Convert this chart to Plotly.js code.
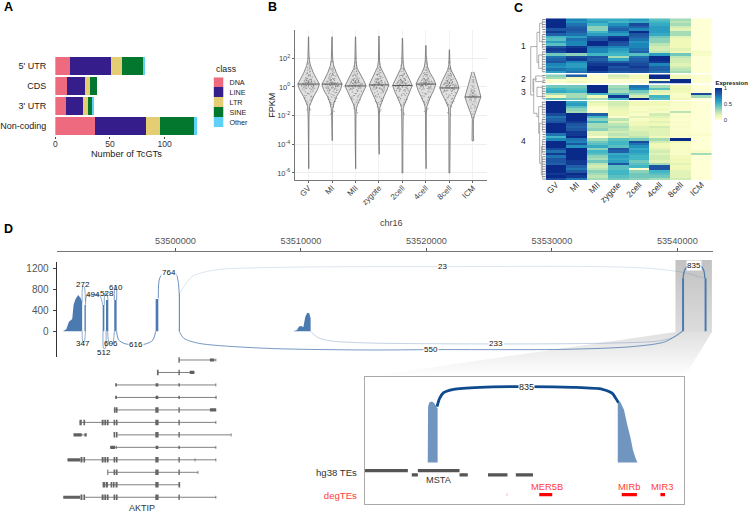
<!DOCTYPE html>
<html><head><meta charset="utf-8">
<script src="https://cdn.plot.ly/plotly-3.0.0.min.js"></script>
<style>html,body{margin:0;padding:0;background:#fff}#g{width:748px;height:513px}</style></head>
<body><div id="g"></div>
<script>
/* ---------- Panel A ---------- */
const regions = ["5' UTR","CDS","3' UTR","Non-coding"];
const classNames = ["DNA","LINE","LTR","SINE","Other"];
const classColors = ["#ee6a7e","#351e8b","#e5cd73","#04772f","#5fd0f7"];
const dnaCounts = [13,11,10,36];
const lineCounts = [38,16,15,47];
const ltrCounts = [10,5,5,13];
const sineCounts = [20,6,4,31];
const otherCounts = [1,0,1,3];

/* ---------- Panel B ---------- */
const stages = ["GV","MI","MII","zygote","2cell","4cell","8cell","ICM"];
const violinGVy = [3.5,2.5,1.9,1.5,1,.5,.2,-.2,-.65,-1.1,-1.35,-2,-4,-5.7];
const violinGVw = [.005,.012,.03,.08,.2,.36,.46,.38,.22,.1,.04,.02,.012,.008];
const violinMIy = [3.5,2.5,1.9,1.5,1,.5,.2,-.2,-.65,-1.1,-1.5,-2,-3,-3.75];
const violinMIw = [.005,.012,.03,.07,.18,.33,.43,.36,.2,.09,.035,.015,.01,.008];
const violinMIIy = [3.5,2.5,1.7,1.3,.9,.45,.07,-.35,-.8,-1.2,-1.5,-2,-4,-5.7];
const violinMIIw = [.005,.012,.03,.07,.2,.35,.45,.33,.2,.09,.035,.02,.012,.008];
const violinZygy = [3.55,2.5,1.8,1.4,1,.5,.14,-.3,-.75,-1.15,-1.45,-2,-3.5,-4.7];
const violinZygw = [.005,.01,.025,.06,.17,.33,.42,.32,.19,.09,.035,.015,.01,.008];
const violin2cy = [3.4,2.5,1.7,1.3,.9,.45,.1,-.35,-.8,-1.2,-1.5,-2,-4,-6];
const violin2cw = [.006,.012,.03,.07,.18,.32,.42,.32,.19,.09,.035,.025,.018,.016];
const violin4cy = [2.9,2.2,1.8,1.4,1,.55,.2,-.25,-.7,-1.1,-1.4,-2,-4,-5.7];
const violin4cw = [.006,.012,.03,.07,.17,.33,.42,.33,.19,.09,.035,.015,.01,.008];
const violin8cy = [2.6,2,1.55,1.2,.8,.35,-.07,-.5,-.95,-1.25,-1.45,-2,-4,-6];
const violin8cw = [.006,.012,.025,.07,.19,.33,.41,.31,.17,.09,.04,.025,.02,.018];
const violinICMy = [1.05,.9,.5,.1,-.3,-.7,-1.1,-1.6,-2,-2.25,-2.7,-3.3,-3.55,-3.75];
const violinICMw = [.04,.06,.13,.2,.28,.34,.26,.14,.06,.025,.02,.02,.04,.035];
const violinYs = [violinGVy,violinMIy,violinMIIy,violinZygy,violin2cy,violin4cy,violin8cy,violinICMy];
const violinWs = [violinGVw,violinMIw,violinMIIw,violinZygw,violin2cw,violin4cw,violin8cw,violinICMw];
const medians = [.2,.2,.07,.14,.1,.2,-.07,-.7];
const jitter = [-.05,.12,-.2,.25,.02,-.12,.18,-.28,.08,-.02,.3,-.16,.06,-.24,.14,.22,-.08,.01,-.18,.1,-.3,.16,-.04,.27,-.1,.05,-.22,.2,-.14,.03,.11,-.26,.24,-.06,.09,-.01];
const ptsGV = [.2,.5,.1,-.1,.8,.3,-.3,.05,1.1,.4,.15,-.6,1.5,.25,-.9,0,.6,.35,.45,-.2,.1,.7,-.45,.3,.9,1.3,-.05,-.7,.55,2,.15,-.15,.4,-1.2,-1.6,0];
const ptsMI = [.3,.6,0,-.2,.9,.2,-.4,.15,1,.5,.05,-.7,1.4,.35,-1,.1,.55,.25,.4,-.15,.2,.75,-.5,.1,.85,1.2,-.1,-.8,.6,1.8,.25,-.05,.3,-1.1,-1.7,.15];
const ptsMII = [.1,.4,-.1,-.3,.7,.25,-.5,0,.9,.3,.2,-.8,1.3,.15,-1.1,-.05,.45,.3,.35,-.25,.05,.6,-.6,.2,.8,1.1,-.15,-.9,.5,1.7,.1,-.2,.25,-1.3,-1.8,.05];
const ptsZyg = [.2,.45,.05,-.2,.75,.3,-.35,.1,1,.35,.2,-.65,1.35,.2,-.95,0,.5,.3,.4,-.1,.1,.65,-.5,.25,.85,1.15,-.05,-.75,.55,1.6,.15,-.15,.35,-1.2,-1.6,.1];
const pts2c = [.1,.5,0,-.25,.8,.2,-.45,.05,.95,.35,.15,-.75,1.3,.25,-1.05,-.1,.55,.3,.3,-.2,.05,.7,-.55,.15,.8,1.2,-.1,-.85,.45,1.75,.1,-.25,.35,-1.25,-1.9,0];
const pts4c = [.25,.55,.1,-.15,.85,.3,-.35,.15,1.05,.45,.2,-.6,1.4,.3,-.9,.05,.6,.35,.45,-.1,.15,.75,-.45,.3,.95,1.25,0,-.7,.55,1.7,.2,-.1,.4,-1.05,-1.5,.1];
const pts8c = [-.05,.3,-.2,-.4,.6,.1,-.6,-.1,.85,.2,.05,-.9,1.1,.15,-1.1,-.15,.4,.25,.3,-.3,0,.55,-.7,.1,.7,.95,-.25,-1,.45,1.3,-.05,-.35,.2,-1.2,-1.4,-.1];
const ptsICM = [-.6,-.3,-.9,-1.1,0,-.5,-1.3,-.7,.3,-.4,-.65,-1.5,.5,-.55,-1.7,-.8,-.2,-.45,-.35,-1,-.75,-.1,-1.2,-.6,.1,.4,-.85,-1.4,-.25,.7,-.7,-.95,-.5,-1.9,-2.1,-.65];
const pointSets = [ptsGV,ptsMI,ptsMII,ptsZyg,pts2c,pts4c,pts8c,ptsICM];

/* ---------- Panel C ---------- */
const cluster1 = [
[1,.7,.55,.55,.6,.45,.3,0],[1,.65,.6,.5,.55,.5,.25,0],[1,.75,.5,.65,.9,.55,.3,0],[1,.8,.35,.75,.8,.6,.2,0],
[.85,.85,.35,.8,.7,.6,.15,0],[.95,.8,.5,.7,1,.6,.3,0],[.8,.75,.6,.6,.85,.55,.3,0],[.5,.6,.8,.95,.8,.4,.15,0],
[.45,.75,.85,1,.75,.35,.1,0],[.6,.7,1,.9,.65,.35,.1,0],[.45,.7,1,.85,.7,.25,.1,0],[.85,.95,.75,.7,.7,.2,.1,0],
[.95,1,.7,.6,.75,.2,.15,0],[.9,1,.7,.55,.8,.25,.1,.06],[.4,.35,.5,.5,.45,.6,.4,.05],[.75,.9,.85,.3,.75,1,.25,0],
[.8,.95,.8,.55,.8,1,.2,0],[.85,.7,.9,.8,.85,.95,.2,0],[.7,.6,.95,.95,.9,.7,.15,0],[.65,.6,1,.85,.95,.8,.2,0],
[.75,.7,1,.9,.9,.8,.25,0],[.6,.75,.9,.8,.85,.75,.3,0]];
const cluster2 = [
[.35,.8,.02,.2,.1,1,.1,.02],[.3,.1,.02,.15,.1,1,.1,.02],[.02,.05,.02,.02,.02,.05,1,.02],[.03,.1,.02,.02,.02,.9,1,.02]];
const cluster3 = [
[.4,.4,1,.3,.75,.3,.1,0],[.5,.45,1,.35,.7,.45,.12,0],[.55,.5,1,.3,.4,.15,.1,0],
[.3,.3,.5,.45,.3,.1,.05,.9],[.1,.3,.1,.95,.2,.5,.05,.3],[.45,.4,.3,.5,1,.45,.1,0]];
const cluster4 = [
[1,.55,.15,.2,.1,.1,.05,0],[1,.6,.1,.2,.1,.1,.05,0],[1,.45,.03,.15,.05,.05,.03,0],[1,.35,.02,.12,.05,.08,.03,0],
[1,.3,.03,.1,.08,.05,.25,0],[.9,1,.8,.1,.05,.2,.03,0],[.75,1,.5,.02,.15,.15,.05,0],[.8,1,.35,.25,.05,.1,.02,0],
[.85,.95,.5,.15,.1,.15,.05,0],[1,.85,.3,.25,.1,.1,.03,0],[1,.8,.3,.3,.15,.2,.05,0],[1,.85,.35,.25,.15,.15,.03,0],
[1,.95,.15,.2,.2,.15,.03,0],[.75,.95,.15,.25,.2,.15,.05,.03],[.5,1,.02,.2,.25,.1,.03,0],[.7,.75,.3,.45,.4,.3,1,0],
[1,.7,.4,.5,.9,.2,.1,0],[1,.85,.45,.5,.75,.1,.05,0],[1,.65,.55,.45,.65,.1,.05,0],[.9,1,.35,.85,.55,.15,.05,0],
[.75,1,.5,.8,.6,.2,.05,.05],[.95,1,.45,.55,.55,.15,.05,.3],[.75,1,.35,.6,.5,.2,.08,0],[.85,1,.3,.55,.5,.2,.1,0],
[.85,.95,.4,.6,.4,.15,.1,0],[.8,.95,.25,.85,.45,.3,.15,0],[1,.8,.2,.45,.5,.85,.1,0],[1,.75,.25,.45,.02,.85,.1,0],
[1,.85,.35,.5,.35,.5,.15,0],[.95,1,.3,.5,.4,.45,.15,0],[1,.95,.25,.45,.4,.4,.15,0],[.9,.75,.3,.4,.35,.3,.2,0]];
/* dendrogram: merge height (from the leaves) and vertical position along the heatmap */
const dendroH = [15,15,null,15,8.7,null,15,12,null,8.7,8.7,null,8.7,6,null,8.7,7,null,6,6,null,6,3.3,null,6,3.3,null,7,7,null,7,3.3,null,7,3.3,null,
 12.7,12.7,null,12.7,8.7,null,12.7,12,null,10,10,null,10,2,null,10,2,null,8.7,8.7,null,8.7,3.3,null,8.7,3.3,null,
 12,12,null,12,8.7,null,8.7,8.7,null,8.7,7,null,7,7,null,7,3.3,null,7,6,null,6,6,null,6,3.3,null,6,4.3,null,4.3,4.3,null,4.3,3.3,null,
 3.3,3.3,null,3.3,3.3,null,3.3,3.3,null,3.3,3.3,null,3.3,3.3,null,3.3,3.3,null,3.3,3.3,null,3.3,3.3];
const dendroP = [28.3,76.7,null,28.3,28.3,null,76.7,76.7,null,14,44,null,14,14,null,44,44,null,5,23.3,null,5,5,null,23.3,23.3,null,36.7,50,null,36.7,36.7,null,50,50,null,
 60.7,73.3,null,60.7,60.7,null,73.3,73.3,null,57.7,63.3,null,57.7,57.7,null,63.3,63.3,null,69,78.3,null,69,69,null,78.3,78.3,null,
 60.7,95,null,95,95,null,95,98.3,null,98.3,98.3,null,88.3,115,null,88.3,88.3,null,115,115,null,105,145,null,105,105,null,145,145,null,128.3,156.7,null,128.3,128.3,null,
 1.7,10,null,16.7,30,null,33.3,53.3,null,67,80,null,83.3,97,null,100,113.3,null,121.7,135,null,138.3,160];

/* ---------- Panel D: coverage (bp from 53500000, read depth) and junctions ---------- */
const chromTicks = [0,10000,20000,30000,40000];
const chromLabels = ["53500000","53510000","53520000","53530000","53540000"];
const covX = [-9500,-8973,-8709,-8498,-8234,-8128,-7970,-7759,-7548,-7442,-7442,-7257,-7257,-7151,-7151,-5806,-5806,-5674,-5674,-5542,-5542,-5357,-5357,-4882,-4882,-4697,-4697,-1583,-1583,-1372,-1372,264,264,343,343,9369,9685,9844,10028,10187,10345,10503,10662,10767,10767,40377,40377,40535,40535,42172,42172,42330,42330];
const covY = [0,0,39,186,238,507,623,700,636,559,0,0,507,507,0,0,507,507,0,0,603,603,0,0,603,603,0,0,623,623,0,0,732,732,0,0,26,90,103,77,282,359,347,250,0,0,1021,1021,0,0,1021,1021,0];
const junctionCounts = [272,347,494,528,512,606,610,616,764,23,550,233,835];
const junctionX = [
 [-7442,-7389,-7284,-7178],[-7442,-7389,-7284,-7178],[-7178,-7073,-6598,-6070,-5806],[-5674,-5621,-5489,-5384],[-5779,-5727,-5595,-5542],
 [-5410,-5278,-5014,-4882],[-4882,-4829,-4724,-4697],[-4697,-4539,-3959,-2375,-1795,-1583],[-1372,-1267,-924,0,211,290],
 [343,1320,3167,7125,15306,20584,33779,37738,40377,42172],[290,660,1847,7125,15306,20584,31140,36418,39057,40377],
 [10767,11348,12403,15306,25598,33779,38529,39849,40456],[40456,40588,40905,41828,42092,42198]];
const junctionY = [
 [559,860,860,559],[0,-199,-199,0],[507,681,700,700,507],[507,732,732,603],[0,-327,-327,0],
 [0,-231,-231,0],[603,860,860,603],[0,-167,-244,-244,-167,0],[636,1021,1117,1117,957,732],
 [732,1053,1181,1226,1245,1245,1245,1213,1136,1021],[0,-135,-231,-327,-360,-353,-347,-295,-199,0],
 [0,-122,-186,-225,-244,-231,-186,-103,0],[1021,1181,1258,1258,1181,1021]];
const junctionAlpha = [.55,.55,.55,.6,.6,.6,.7,.75,.75,.18,.7,.3,.85];
const junctionLabelX = [-7389,-7389,-6545,-5489,-5674,-5146,-4750,-3114,-554,21270,20400,25572,41353];
const junctionLabelY = [892,-231,700,732,-417,-238,847,-250,1124,1245,-353,-244,1265];

/* ---------- Panel D: gene track (track position units) ---------- */
const txIntrons = [[[420,533]],[[355,467]],[[230,533]],[[230,533]],[[224,533]],[[120,533]],[[127,135],[235,578]],[[213,533]],[[84,533]],[[205,478]],[[190,424]],[[137,533]]];
const txExons = [
 [[419,423]],[[354,359],[419,423]],[],[],
 [[224,229],[230,235],[349,359],[419,423]],
 [[120,127],[132,137],[187,193],[195,201],[203,208],[223,228],[230,235],[349,359],[419,423]],
 [[223,228],[230,235],[349,359],[419,423]],[],
 [[123,129],[132,137],[187,193],[195,201],[203,208],[223,228],[230,235],[349,359],[419,423]],
 [[204,207],[223,228],[230,235],[349,359],[419,423]],
 [[190,197],[199,206],[214,219],[221,226],[229,235],[349,359],[419,424]],
 [[123,129],[132,137],[187,193],[195,201],[203,208],[223,228],[230,235],[349,359],[419,423]]];
const txUtrs = [
 [[514,527],[531,533]],[[453,467]],[[228,233],[350,358],[419,423],[531,533]],[[228,233],[350,358],[419,423],[531,534]],
 [[514,533]],[[531,533]],[[102,127],[135,142],[577,579]],[[213,228],[231,233],[350,358],[419,423],[531,533]],
 [[84,122],[468,470],[531,533]],[[477,479]],[],[[71,122],[531,533]]];

/* ---------- Panel D: inset (bp from inset start, read depth) ---------- */
const insetCovX = [572,575,587,611,632,650,662,662,2300,2300,2327,2357,2387,2417,2438,2462,2477,2482];
const insetCovY = [0,912,983,994,967,912,885,0,0,1021,977,858,614,396,206,71,11,0];
const insetArcX = [656,680,716,807,1047,1469,1890,2161,2251,2282,2306];
const insetArcY = [912,1048,1140,1195,1227,1238,1227,1195,1129,1048,977];
const teStart = [0,482,427,861,1120,1373];
const teEnd = [391,861,482,936,1297,1529];
const teLevel = [-130,-130,-200,-200,-200,-200];
const degStart = [1586,2336,2688];
const degEnd = [1704,2474,2730];
const degNames = ["MER5B","MIRb","MIR3"];

/* ---------- helpers ---------- */
const W=748,H=513;
const dx=(a,b)=>[a/W,b/W];
const dy=(a,b)=>[1-b/H,1-a/H];
const FONT="Liberation Sans, Arial, sans-serif";
const hidden={visible:false,zeroline:false,showgrid:false,fixedrange:true};
function segs(list,ys){const x=[],y=[];list.forEach((row,i)=>row.forEach(s=>{x.push(s[0],s[1],null);y.push(ys?ys[i]:i,ys?ys[i]:i,null);}));return{x,y};}
const traces=[];

/* page backdrop for the zoom callout */
traces.push({type:'scatter',mode:'none',x:[680,716.7,689,368,680],y:[332,332,377,377,332],fill:'toself',xaxis:'x',yaxis:'y',hoverinfo:'skip',
  fillgradient:{type:'vertical',colorscale:[[0,'#ffffff'],[1,'#e0e0e0']]}});
traces.push({type:'scatter',mode:'none',x:[680,716.7,716.7,680,680],y:[260,260,332,332,260],fill:'toself',xaxis:'x',yaxis:'y',hoverinfo:'skip',
  fillgradient:{type:'vertical',colorscale:[[0,'#dcdcdc'],[1,'#c2c2c2']]}});

/* A */
[dnaCounts,lineCounts,ltrCounts,sineCounts,otherCounts].forEach((v,i)=>traces.push({type:'bar',orientation:'h',y:regions,x:v,name:classNames[i],
  marker:{color:classColors[i],line:{width:0}},xaxis:'x2',yaxis:'y2',showlegend:false}));
traces.push({type:'heatmap',x:['class'],y:classNames,z:classNames.map((c,i)=>[i]),zmin:0,zmax:4,showscale:false,xaxis:'x3',yaxis:'y3',
  colorscale:[[0,classColors[0]],[.2,classColors[0]],[.2,classColors[1]],[.4,classColors[1]],[.4,classColors[2]],[.6,classColors[2]],[.6,classColors[3]],[.8,classColors[3]],[.8,classColors[4]],[1,classColors[4]]]});

/* B */
stages.forEach((s,i)=>{
  const ys=violinYs[i],ws=violinWs[i];
  const x=[...ws.map(w=>i-w),...ws.slice().reverse().map(w=>i+w)];
  const y=[...ys,...ys.slice().reverse()].map(v=>Math.pow(10,v));
  traces.push({type:'scatter',mode:'lines',x,y,fill:'toself',fillcolor:'#e0e0e0',line:{color:'#6e6e6e',width:.8},xaxis:'x4',yaxis:'y4',name:s,showlegend:false});
});
stages.forEach((s,i)=>{
  const op=i==7?.3:.55;
  [[1,0],[-.75,3],[.5,5]].forEach(p=>{
    const src=i==7?ptsICM:pointSets[(i+p[1])%7];
    traces.push({type:'scatter',mode:'markers',x:jitter.map(j=>i+j*p[0]*(i==7?.6:1)),y:src.map(v=>Math.pow(10,v)),marker:{size:1.3,color:'#666',opacity:op},xaxis:'x4',yaxis:'y4',showlegend:false});
  });
  const ws=violinWs[i];
  const hw=Math.max(...ws);
  traces.push({type:'scatter',mode:'lines',x:[i-hw,i+hw],y:[Math.pow(10,medians[i]),Math.pow(10,medians[i])],line:{color:'#555',width:1},xaxis:'x4',yaxis:'y4',showlegend:false});
});

/* C */
const hot=[[0,'#ffffd6'],[.1,'#f0f9b8'],[.2,'#d2edb3'],[.3,'#a5dcb8'],[.4,'#72c8bd'],[.5,'#41b6c4'],[.6,'#2a9dc0'],[.7,'#1d86b8'],[.8,'#2060a8'],[.9,'#1a4a9c'],[1,'#0a2a8a']];
const clusters=[cluster1,cluster2,cluster3,cluster4];
clusters.forEach((m,i)=>traces.push({type:'heatmap',z:m,x:stages.map((s,k)=>k),y:m.map((r,k)=>k),coloraxis:'coloraxis',xaxis:'x5',yaxis:'y'+(5+i)}));
traces.push({type:'scatter',mode:'lines',x:dendroH,y:dendroP,line:{color:'#8c8c8c',width:.7},xaxis:'x6',yaxis:'y9',showlegend:false,hoverinfo:'skip'});
/* dendrogram leaves: one per heatmap row */
const clusterSpans=[[0,54.7],[56,65.4],[66.7,81.7],[82.7,162]];
const leafH=[],leafP=[];
clusters.forEach((m,i)=>{const a=clusterSpans[i][0],p=(clusterSpans[i][1]-a)/m.length;m.forEach((r,k)=>{const q=a+(k+.5)*p;leafH.push(3.3,0,null);leafP.push(q,q,null);});});
traces.push({type:'scatter',mode:'lines',x:leafH,y:leafP,line:{color:'#6a6a6a',width:.8},connectgaps:false,xaxis:'x6',yaxis:'y9',showlegend:false,hoverinfo:'skip'});

/* D main */
traces.push({type:'scatter',mode:'none',x:covX,y:covY,fill:'tozeroy',fillcolor:'#4a7ab0',xaxis:'x7',yaxis:'y10',showlegend:false});
junctionCounts.forEach((c,i)=>traces.push({type:'scatter',mode:'lines',x:junctionX[i],y:junctionY[i],line:{shape:'spline',smoothing:.8,color:`rgba(60,110,170,${junctionAlpha[i]})`,width:i==12?1.3:1},xaxis:'x7',yaxis:'y10',name:String(c),showlegend:false}));

/* D gene track */
const intr=segs(txIntrons),ex=segs(txExons),ut=segs(txUtrs);
traces.push({type:'scatter',mode:'lines',x:intr.x,y:intr.y,line:{color:'#808080',width:1},connectgaps:false,xaxis:'x8',yaxis:'y11',showlegend:false});
traces.push({type:'scatter',mode:'lines',x:ut.x,y:ut.y,line:{color:'#606060',width:3.2},connectgaps:false,xaxis:'x8',yaxis:'y11',showlegend:false});
traces.push({type:'scatter',mode:'lines',x:ex.x,y:ex.y,line:{color:'#666',width:5.5},connectgaps:false,xaxis:'x8',yaxis:'y11',showlegend:false});

/* D inset */
traces.push({type:'scatter',mode:'none',x:insetCovX,y:insetCovY,fill:'tozeroy',fillcolor:'#7096c0',xaxis:'x9',yaxis:'y12',showlegend:false});
traces.push({type:'scatter',mode:'lines',x:insetArcX,y:insetArcY,line:{shape:'spline',smoothing:.7,color:'#0f4a8e',width:2.8},xaxis:'x9',yaxis:'y12',showlegend:false});
const te=segs(teStart.map((s,i)=>[[s,teEnd[i]]]),teLevel);
traces.push({type:'scatter',mode:'lines',x:te.x,y:te.y,line:{color:'#555',width:3.2},connectgaps:false,xaxis:'x9',yaxis:'y12',showlegend:false});
const deg=segs(degStart.map((s,i)=>[[s,degEnd[i]]]),degStart.map(()=>-521));
traces.push({type:'scatter',mode:'lines',x:deg.x,y:deg.y,line:{color:'#ff0000',width:3.2},connectgaps:false,xaxis:'x9',yaxis:'y12',showlegend:false});
traces.push({type:'scatter',mode:'lines',x:[1292,1292],y:[-495,-545],line:{color:'#ffb0b0',width:.8},xaxis:'x9',yaxis:'y12',showlegend:false});

/* annotations */
const ann=[];
function pageText(t,x,y,size,opt){ann.push(Object.assign({text:t,x:x,y:y,xref:'x',yref:'y',showarrow:false,font:{size:size,color:'#000',family:FONT},xanchor:'center',yanchor:'middle'},opt||{}));}
pageText('<b>A</b>',2,7,12.5,{xanchor:'left'});
pageText('<b>B</b>',268,7,12.5,{xanchor:'left'});
pageText('<b>C</b>',515,8,12.5,{xanchor:'left'});
pageText('<b>D</b>',2,229,12.5,{xanchor:'left'});
pageText('class',215,68.5,8.8,{xanchor:'left',font:{size:8.8,color:'#222',family:FONT}});
pageText('chr16',394,223,9,{font:{size:9,color:'#444',family:FONT}});
pageText('AKTIP',143,508,9,{font:{size:9,color:'#333',family:FONT}});
[['1',45.7],['2',79],['3',92],['4',141]].forEach(p=>pageText(p[0],526.7,p[1],8.5,{font:{size:8.5,color:'#222',family:FONT}}));
junctionCounts.forEach((c,i)=>ann.push({text:String(c),x:junctionLabelX[i],y:junctionLabelY[i],xref:'x7',yref:'y10',showarrow:false,font:{size:8,color:'#111',family:FONT},bgcolor:i<7?'rgba(255,255,255,0)':'#ffffff',borderpad:0,xanchor:'center',yanchor:'middle'}));
ann.push({text:'835',x:1469,y:1238,xref:'x9',yref:'y12',showarrow:false,font:{size:9,color:'#222',family:FONT},bgcolor:'#fff',borderpad:0});
ann.push({text:'MSTA',x:671,y:-282,xref:'x9',yref:'y12',showarrow:false,font:{size:9.2,color:'#333',family:FONT}});
degNames.forEach((n,i)=>ann.push({text:n,x:[1652,2405,2703][i],y:-391,xref:'x9',yref:'y12',showarrow:false,font:{size:9.4,color:'#ff3c3c',family:FONT}}));

const layout={
  width:W,height:H,autosize:false,margin:{l:0,r:0,t:0,b:0,pad:0},paper_bgcolor:'#fff',plot_bgcolor:'rgba(0,0,0,0)',
  font:{family:FONT,size:9,color:'#333'},showlegend:false,bargap:.1,barmode:'stack',hovermode:false,annotations:ann,
  coloraxis:{colorscale:hot,cmin:0,cmax:1,colorbar:{x:719.3/W,xanchor:'left',xpad:0,y:1-77/H,yanchor:'top',ypad:0,len:43,lenmode:'pixels',thickness:7,thicknessmode:'pixels',outlinewidth:0,tickvals:[0,.5,1],ticktext:['0','0.5','1'],ticks:'',tickfont:{size:6,color:'#333'},title:{text:'<b>Expression</b>',side:'top',font:{size:6,color:'#111'}}}},
  /* page */
  xaxis:Object.assign({},hidden,{domain:[0,1],range:[0,W],anchor:'y'}),
  yaxis:Object.assign({},hidden,{domain:[0,1],range:[H,0],anchor:'x'}),
  /* A */
  xaxis2:{domain:dx(55.7,198.7),range:[0,130],anchor:'y2',tickvals:[0,50,100],ticks:'outside',ticklen:2,tickcolor:'#444',tickfont:{size:8.5,color:'#333'},ticklabelstandoff:-3,showgrid:false,zeroline:false,showline:false,fixedrange:true,title:{text:'Number of TcGTs',font:{size:9.2,color:'#222'},standoff:0}},
  yaxis2:{domain:dy(55.6,136.4),type:'category',categoryorder:'array',categoryarray:regions,range:[3.5,-.5],anchor:'x2',tickfont:{size:9,color:'#222'},ticks:'',showgrid:false,zeroline:false,showline:false,fixedrange:true,ticklabelstandoff:8},
  xaxis3:Object.assign({},hidden,{domain:dx(215,225),anchor:'y3'}),
  yaxis3:{domain:dy(77.3,127.3),type:'category',categoryorder:'array',categoryarray:classNames,range:[4.5,-.5],anchor:'x3',side:'right',tickfont:{size:7.2,color:'#222'},ticks:'',showgrid:false,zeroline:false,showline:false,fixedrange:true,ticklabelstandoff:5},
  /* B */
  xaxis4:{domain:dx(296.7,490),range:[-.59,7.59],anchor:'y4',tickvals:[0,1,2,3,4,5,6,7],ticktext:stages,tickangle:-45,ticks:'outside',ticklen:2,tickcolor:'#666',tickfont:{size:8,color:'#444'},ticklabelstandoff:-3,showgrid:true,gridcolor:'#f1f1f1',gridwidth:1,zeroline:false,showline:true,linecolor:'#777',linewidth:1,fixedrange:true},
  yaxis4:{domain:dy(30,180.3),type:'log',range:[-6.51,3.97],anchor:'x4',tickvals:[1e-6,1e-4,1e-2,1,1e2],ticktext:['10<sup>-6</sup>','10<sup>-4</sup>','10<sup>-2</sup>','10<sup>0</sup>','10<sup>2</sup>'],ticks:'outside',ticklen:2,tickcolor:'#666',tickfont:{size:7.5,color:'#444'},showgrid:true,gridcolor:'#eeeeee',gridwidth:1,zeroline:false,showline:true,linecolor:'#777',linewidth:1,fixedrange:true,title:{text:'FPKM',font:{size:9,color:'#222'},standoff:0}},
  /* C */
  xaxis5:{domain:dx(549.3,716.7),range:[-.5,7.5],anchor:'y8',tickvals:[0,1,2,3,4,5,6,7],ticktext:stages,tickangle:-45,ticks:'',tickfont:{size:8.5,color:'#333'},ticklabelstandoff:-3,showgrid:false,zeroline:false,showline:false,fixedrange:true},
  yaxis5:Object.assign({},hidden,{domain:dy(18.3,73),range:[21.5,-.5],anchor:'x5'}),
  yaxis6:Object.assign({},hidden,{domain:dy(74.3,83.7),range:[3.5,-.5],anchor:'x5'}),
  yaxis7:Object.assign({},hidden,{domain:dy(85,100),range:[5.5,-.5],anchor:'x5'}),
  yaxis8:Object.assign({},hidden,{domain:dy(101,180.3),range:[31.5,-.5],anchor:'x5'}),
  xaxis6:Object.assign({},hidden,{domain:dx(530,549.3),range:[19.3,0],anchor:'y9'}),
  yaxis9:Object.assign({},hidden,{domain:dy(18.3,180.3),range:[162,0],anchor:'x6'}),
  /* D main */
  xaxis7:{domain:dx(57,717.3),range:[-9478,42803],side:'top',anchor:'free',position:1-250.7/H,tickvals:chromTicks,ticktext:chromLabels,ticks:'outside',ticklen:3,tickcolor:'#555',tickfont:{size:9.2,color:'#555'},showgrid:false,zeroline:false,showline:true,linecolor:'#777',linewidth:1,fixedrange:true},
  yaxis10:{domain:dy(261.7,357.3),range:[-501,1340],anchor:'x7',tickvals:[0,400,800,1200],ticks:'outside',ticklen:3,tickcolor:'#444',tickfont:{size:10,color:'#555'},ticklabelstandoff:2,showgrid:false,zeroline:false,showline:true,linecolor:'#333',linewidth:1,fixedrange:true},
  /* D gene */
  xaxis8:Object.assign({},hidden,{domain:dx(40,260),range:[0,660],anchor:'y11'}),
  yaxis11:Object.assign({},hidden,{domain:dy(353.75,503.5),range:[11.5,-.5],anchor:'x8'}),
  /* D inset */
  xaxis9:{domain:dx(367.3,689),range:[0,2906],anchor:'y12',showline:true,mirror:true,linecolor:'#aaa',linewidth:1,showticklabels:false,ticks:'',showgrid:false,zeroline:false,fixedrange:true},
  yaxis12:{domain:dy(377.3,504.3),range:[-679,1390],anchor:'x9',showline:true,mirror:true,linecolor:'#aaa',linewidth:1,tickvals:[-165,-535],ticktext:['hg38 TEs','<span style="color:#ff3c3c">degTEs</span>'],ticks:'',tickfont:{size:9.6,color:'#333'},ticklabelstandoff:5,showgrid:false,zeroline:false,fixedrange:true}
};
Plotly.newPlot('g',traces,layout,{displayModeBar:false,responsive:false});
</script></body></html>
